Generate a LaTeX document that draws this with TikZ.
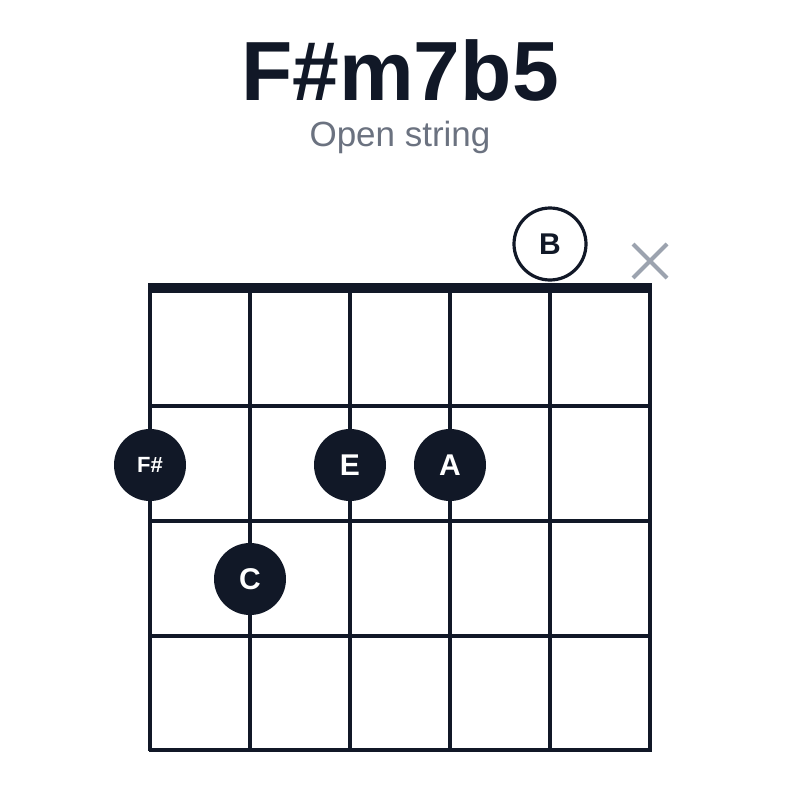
\documentclass[tikz,border=0pt]{standalone}
\usepackage{fontspec}
\setmainfont{Liberation Sans}
\begin{document}
\definecolor{ink}{HTML}{111827}
\definecolor{gr}{HTML}{6B7280}
\definecolor{xg}{HTML}{9CA3AF}
\begin{tikzpicture}[x=1pt,y=-1pt,
 line/.style={ink,line width=3.1pt},
 dot/.style={circle,fill=ink,minimum size=72pt,inner sep=0pt,text=white,font=\fontsize{30}{30}\selectfont\bfseries},
 odot/.style={circle,draw=ink,line width=3.2pt,fill=white,minimum size=72pt,inner sep=0pt,text=ink,font=\fontsize{30}{30}\selectfont\bfseries}]
\useasboundingbox (0,0) rectangle (800,800);
\node[font=\fontsize{84}{84}\selectfont\bfseries,text=ink] (t) at (400,70) {F\#m7b5};
\node[font=\fontsize{35}{35}\selectfont,text=gr] (s) at (400,137) {Open string};
\foreach \x in {150,250,350,450,550,650} \draw[line] (\x,288) -- (\x,751);
\foreach \y in {406,521,636,750} \draw[line] (148.5,\y) -- (651.5,\y);
\draw[ink,line width=10pt] (148,288) -- (652,288);
\node[dot,font=\fontsize{22}{22}\selectfont\bfseries] (fs) at (150,465) {F\#};
\node[dot] (e) at (350,465) {E};
\node[dot] (a) at (450,465) {A};
\node[dot] (c) at (250,579) {C};
\node[odot] (b) at (550,244) {B};
\draw[xg,line width=4pt] (633,244) -- (667,278) (633,278) -- (667,244);
\end{tikzpicture}
\end{document}
